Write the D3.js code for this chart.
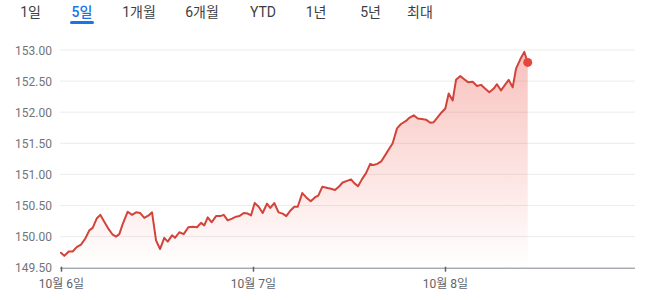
<!DOCTYPE html>
<html>
<head>
<meta charset="utf-8">
<script src="https://cdn.jsdelivr.net/npm/d3@7"></script>
<style>
  html, body { margin: 0; padding: 0; background: #fff; }
  svg { display: block; font-family: Roboto, "Noto Sans CJK KR", sans-serif; }
</style>
</head>
<body>
<svg id="chart" width="647" height="300"></svg>
<script>
// ---- data ----
const tabs = ["1일", "5일", "1개월", "6개월", "YTD", "1년", "5년", "최대"];
const selectedTab = "5일";
const yTicks = [149.5, 150.0, 150.5, 151.0, 151.5, 152.0, 152.5, 153.0];
const xTickLabels = ["10월 6일", "10월 7일", "10월 8일"];
const startDate = new Date(2023, 9, 6, 0, 0);
const endDate = new Date(2023, 9, 9, 0, 0);
// hours since 10월 6일 00:00
const hours = [0, 0.41, 0.96, 1.46, 1.96, 2.5, 3.04, 3.54, 3.96, 4.46, 4.91, 5.41, 5.96, 6.46, 6.88, 7.29, 7.71, 8.34, 8.88, 9.38, 9.88, 10.41, 10.96, 11.38, 11.88, 12.38, 12.91, 13.34, 13.88,
  14.25, 14.79, 15.34, 15.91, 16.46, 17, 17.5, 17.91, 18.34, 18.84, 19.38, 19.91, 20.34, 20.84, 21.38, 21.88, 22.29, 22.84, 23.34, 23.75,
  24.21, 24.71, 25.21, 25.75, 26.16, 26.66, 27.19, 27.71, 28.16, 28.69, 29.16, 29.59, 30.16, 30.66, 31.21, 31.73, 32.16, 32.66, 33.34, 33.75,
  34.25, 34.79, 35.21, 35.84, 36.25, 36.66, 37.13, 37.61, 38.13, 38.65, 39.06, 39.53, 40.04, 40.53, 40.96, 41.46, 42, 42.5, 43.13, 43.54,
  44.09, 44.59, 45.09, 45.63, 46.16, 46.59, 47.09, 47.59, 48.04, 48.46, 48.96, 49.38, 49.91, 50.41, 50.91, 51.46, 52, 52.5, 53, 53.54,
  54.09, 54.5, 55, 55.5, 55.96, 56.46, 56.88, 57.41, 57.91, 58.34];
const prices = [149.74, 149.69, 149.76, 149.76, 149.83, 149.87, 149.97, 150.10, 150.14, 150.29, 150.35, 150.24, 150.12, 150.03, 150.00, 150.04, 150.20, 150.40, 150.35, 150.39, 150.38, 150.30, 150.34, 150.39, 149.94, 149.80, 149.98, 149.92, 150.02,
  149.98, 150.07, 150.04, 150.15, 150.16, 150.15, 150.22, 150.18, 150.31, 150.23, 150.33, 150.33, 150.35, 150.26, 150.29, 150.32, 150.33, 150.38, 150.37, 150.34,
  150.54, 150.48, 150.38, 150.53, 150.46, 150.54, 150.39, 150.37, 150.33, 150.42, 150.48, 150.48, 150.70, 150.63, 150.57, 150.63, 150.66, 150.80, 150.78, 150.77,
  150.75, 150.81, 150.87, 150.90, 150.92, 150.86, 150.81, 150.92, 151.02, 151.17, 151.15, 151.17, 151.21, 151.31, 151.40, 151.50, 151.74, 151.81, 151.86, 151.91,
  151.95, 151.90, 151.89, 151.88, 151.83, 151.84, 151.92, 152.00, 152.06, 152.30, 152.19, 152.52, 152.58, 152.53, 152.48, 152.49, 152.42, 152.44, 152.38, 152.32,
  152.38, 152.45, 152.35, 152.44, 152.52, 152.40, 152.70, 152.85, 152.97, 152.80];

const data = hours.map((h, i) => ({ t: new Date(startDate.getTime() + h * 3600000), v: prices[i] }));

// ---- layout ----
const svg = d3.select("#chart");
const x = d3.scaleTime().domain([startDate, endDate]).range([61, 637]);
const y = d3.scaleLinear().domain([149.5, 153.0]).range([267.7, 50]);

// tabs
const tabX = [30.5, 82, 139, 202, 263, 316, 370.5, 420];
const tabG = svg.append("g");
tabs.forEach((t, i) => {
  tabG.append("text")
    .attr("x", tabX[i]).attr("y", 12)
    .attr("text-anchor", "middle").attr("dominant-baseline", "central")
    .attr("font-size", 14)
    .attr("fill", t === selectedTab ? "#1a73e8" : "#3c4043")
    .attr("font-weight", t === selectedTab ? 500 : 400)
    .text(t);
});
const selIdx = tabs.indexOf(selectedTab);
tabG.append("rect")
  .attr("x", tabX[selIdx] - 12).attr("y", 21).attr("width", 24).attr("height", 3)
  .attr("rx", 1.5).attr("fill", "#1a73e8");

// gridlines
svg.append("g").selectAll("line")
  .data(yTicks.filter(d => d > 149.5))
  .join("line")
  .attr("x1", 60).attr("x2", 635)
  .attr("y1", d => y(d)).attr("y2", d => y(d))
  .attr("stroke", "#ececec").attr("stroke-width", 1);

// y labels
const yAxis = d3.axisLeft(y).tickValues(yTicks).tickFormat(d3.format(".2f")).tickSize(0).tickPadding(0);
const yg = svg.append("g").attr("transform", "translate(52,0)").call(yAxis);
yg.select(".domain").remove();
yg.selectAll("text").attr("font-size", 12).attr("fill", "#70757a")
  .attr("font-family", "Roboto, sans-serif").attr("dy", "0.35em");

// gradient
const defs = svg.append("defs");
const grad = defs.append("linearGradient").attr("id", "fillGrad")
  .attr("gradientUnits", "userSpaceOnUse")
  .attr("x1", 0).attr("x2", 0).attr("y1", y(153)).attr("y2", y(149.5));
grad.append("stop").attr("offset", "0%").attr("stop-color", "#ea4335").attr("stop-opacity", 0.33);
grad.append("stop").attr("offset", "100%").attr("stop-color", "#ea4335").attr("stop-opacity", 0.0);

// area
const area = d3.area().x(d => x(d.t)).y0(y(149.5)).y1(d => y(d.v));
svg.append("path").datum(data).attr("d", area).attr("fill", "url(#fillGrad)");

// x axis
const xAxis = d3.axisBottom(x)
  .tickValues([0, 1, 2].map(d => d3.timeDay.offset(startDate, d)))
  .tickFormat((d, i) => xTickLabels[i])
  .tickSize(4).tickPadding(8);
const xg = svg.append("g").attr("transform", `translate(0,${y(149.5)})`).call(xAxis);
xg.select(".domain").attr("d", `M60,0.5H635`).attr("stroke", "#80868b").attr("stroke-width", 1);
xg.selectAll(".tick line").attr("stroke", "#5f6368").attr("stroke-width", 1.5).attr("y1", -1);
xg.selectAll("text").attr("font-size", 12).attr("fill", "#5f6368")
  .attr("font-family", "Roboto, 'Noto Sans CJK KR', sans-serif");

// line
const line = d3.line().x(d => x(d.t)).y(d => y(d.v));
svg.append("path").datum(data).attr("d", line)
  .attr("fill", "none").attr("stroke", "#d2433a").attr("stroke-width", 2)
  .attr("stroke-linejoin", "round").attr("stroke-linecap", "round");

// end dot
const last = data[data.length - 1];
svg.append("circle").attr("cx", x(last.t)).attr("cy", y(last.v)).attr("r", 4.5).attr("fill", "#e8453c");
</script>
</body>
</html>
